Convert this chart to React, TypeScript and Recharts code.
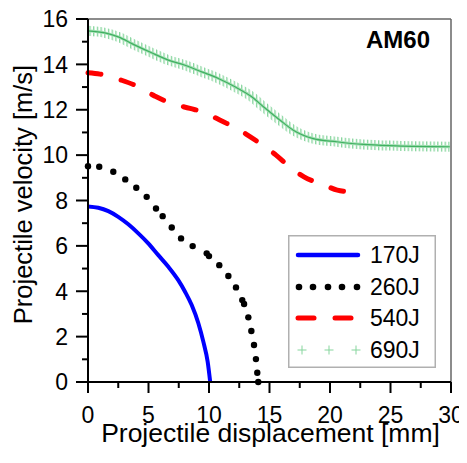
import { LineChart, Line, XAxis, YAxis, ReferenceLine, Legend } from "recharts";

// projectile displacement [mm] / velocity [m/s]
const X_170 = [0, 0.85, 1.68, 2.5, 3.33, 4.16, 4.98, 5.81, 6.64, 7.46, 8.02, 8.57, 9.12, 9.53, 9.89, 10.1];
const V_170 = [7.74, 7.68, 7.53, 7.28, 6.95, 6.55, 6.11, 5.59, 5.08, 4.49, 3.98, 3.39, 2.59, 1.78, 0.89, 0];

const X_260 = [0, 0.93, 2.09, 3.08, 3.99, 4.85, 5.62, 6.17, 6.92, 7.69, 8.65, 9.81, 10.0, 10.85, 11.6, 12.23, 12.75, 12.9, 13.25, 13.5, 13.72, 13.88, 13.99, 14.07];
const V_260 = [9.51, 9.49, 9.27, 8.93, 8.56, 8.16, 7.65, 7.31, 6.81, 6.33, 5.99, 5.67, 5.55, 5.15, 4.67, 4.17, 3.61, 3.44, 2.85, 2.25, 1.63, 1.01, 0.41, 0];

const X_540 = [0, 0.99, 2.78, 3.88, 5.54, 6.78, 8.43, 9.81, 10.36, 11.46, 13.06, 14.16, 15.54, 16.83, 17.85, 19.53, 20.6, 22.04];
const V_540 = [13.63, 13.57, 13.3, 13.08, 12.6, 12.3, 12.06, 11.84, 11.69, 11.4, 10.93, 10.54, 10.0, 9.41, 9.04, 8.68, 8.46, 8.37];

const X_690 = [0, 1.4, 2.5, 3.88, 5.26, 6.64, 8.02, 9.4, 10.77, 12.15, 13.53, 14.5, 15.87, 16.97, 18.62, 20.55, 22.75, 25.5, 29.9];
const V_690 = [15.48, 15.39, 15.21, 14.85, 14.51, 14.19, 13.96, 13.67, 13.38, 13.01, 12.57, 12.13, 11.54, 11.1, 10.73, 10.59, 10.47, 10.41, 10.37];

const SERIES_NAMES = ["170J", "260J", "540J", "690J"];
const X_TICKS = [0, 2.5, 5, 7.5, 10, 12.5, 15, 17.5, 20, 22.5, 25, 27.5, 30];
const Y_TICKS = [0, 1, 2, 3, 4, 5, 6, 7, 8, 9, 10, 11, 12, 13, 14, 15, 16];

const FONT = '"Liberation Sans", Arial, sans-serif';
const LIGHT_GREEN = "#86d59d";

const toPoints = (xs: number[], vs: number[]) => xs.map((x, i) => ({ x, v: vs[i] }));

function XTick({ x, y, payload }: any) {
  const major = payload.value % 5 === 0;
  return (
    <g>
      <line x1={x} x2={x} y1={y} y2={y + (major ? 11 : 6)} stroke="#000" strokeWidth={2} />
      {major && (
        <text x={x} y={y + 41} textAnchor="middle" fontSize={23} fontFamily={FONT} fill="#000">
          {payload.value}
        </text>
      )}
    </g>
  );
}

function YTick({ x, y, payload }: any) {
  const major = payload.value % 2 === 0;
  return (
    <g>
      <line x1={x - (major ? 12 : 6)} x2={x} y1={y} y2={y} stroke="#000" strokeWidth={2} />
      {major && (
        <text x={x - 20} y={y} dy="0.36em" textAnchor="end" fontSize={23} fontFamily={FONT} fill="#000">
          {payload.value}
        </text>
      )}
    </g>
  );
}

function XLabel({ viewBox }: any) {
  return (
    <text x={viewBox.x + viewBox.width / 2 + 1} y={viewBox.y + 60} textAnchor="middle" fontSize={26.5} fontFamily={FONT} fill="#000">
      Projectile displacement [mm]
    </text>
  );
}

function YLabel({ viewBox }: any) {
  const cx = viewBox.x + 24;
  const cy = viewBox.y + viewBox.height / 2 - 6;
  return (
    <text x={cx} y={cy} transform={`rotate(-90, ${cx}, ${cy})`} textAnchor="middle" fontSize={25.5} fontFamily={FONT} fill="#000">
      Projectile velocity [m/s]
    </text>
  );
}

function LegendBox() {
  const rows = [20, 52, 83, 115];
  return (
    <svg width={148} height={133} style={{ display: "block" }}>
      <rect x={0.75} y={0.75} width={146.5} height={131.5} fill="#fff" stroke="#b0b0b0" strokeWidth={1.5} />
      <line x1={10} x2={70} y1={rows[0]} y2={rows[0]} stroke="#0000ff" strokeWidth={4.5} strokeLinecap="round" />
      {[11, 25, 40, 54, 69].map((cx) => (
        <circle key={cx} cx={cx} cy={rows[1]} r={3.3} fill="#000" />
      ))}
      {[[10, 26], [47, 63]].map(([a, b]) => (
        <line key={a} x1={a} x2={b} y1={rows[2]} y2={rows[2]} stroke="#ff0000" strokeWidth={5} strokeLinecap="round" />
      ))}
      {[14, 41, 68].map((cx) => (
        <g key={cx} stroke={LIGHT_GREEN} strokeWidth={1}>
          <line x1={cx - 4.5} x2={cx + 4.5} y1={rows[3]} y2={rows[3]} />
          <line x1={cx} x2={cx} y1={rows[3] - 4.5} y2={rows[3] + 4.5} />
        </g>
      ))}
      {SERIES_NAMES.map((name, i) => (
        <text key={name} x={82} y={rows[i]} dy="0.36em" fontSize={23} fontFamily={FONT} fill="#000">
          {name}
        </text>
      ))}
    </svg>
  );
}

export default function App() {
  return (
    <div style={{ width: 459, height: 455, background: "#fff" }}>
      <LineChart width={459} height={455} margin={{ top: 11, right: 16, bottom: 0, left: 0 }}>
        <defs>
          <pattern id="vbars" patternUnits="userSpaceOnUse" width={3.7} height={40}>
            <rect x={0} y={0} width={1.3} height={40} fill={LIGHT_GREEN} />
          </pattern>
        </defs>
        <XAxis
          type="number"
          dataKey="x"
          domain={[0, 30]}
          ticks={X_TICKS}
          interval={0}
          height={81}
          tickSize={0}
          tickMargin={0}
          tickLine={false}
          tick={<XTick />}
          axisLine={{ stroke: "#000", strokeWidth: 2 }}
          label={<XLabel />}
        />
        <YAxis
          type="number"
          dataKey="v"
          domain={[0, 16]}
          ticks={Y_TICKS}
          interval={0}
          width={80}
          tickSize={0}
          tickMargin={0}
          tickLine={false}
          tick={<YTick />}
          axisLine={{ stroke: "#000", strokeWidth: 2 }}
          label={<YLabel />}
        />
        <ReferenceLine y={16} stroke="#666" strokeWidth={1.5} />
        <ReferenceLine x={30} stroke="#666" strokeWidth={1.5} />
        <Line
          data={toPoints(X_690, V_690)}
          dataKey="v"
          name={SERIES_NAMES[3]}
          type="monotone"
          stroke="url(#vbars)"
          strokeWidth={10}
          dot={false}
          isAnimationActive={false}
        />
        <Line
          data={toPoints(X_690, V_690)}
          dataKey="v"
          type="monotone"
          stroke="#a6e0b6"
          strokeWidth={3}
          dot={false}
          legendType="none"
          isAnimationActive={false}
        />
        <Line
          data={toPoints(X_690, V_690)}
          dataKey="v"
          type="monotone"
          stroke="#3fb060"
          strokeWidth={1.2}
          dot={false}
          legendType="none"
          isAnimationActive={false}
        />
        <Line
          data={toPoints(X_540, V_540)}
          dataKey="v"
          name={SERIES_NAMES[2]}
          type="monotone"
          stroke="#ff0000"
          strokeWidth={5}
          strokeDasharray="13 21"
          strokeLinecap="round"
          dot={false}
          isAnimationActive={false}
        />
        <Line
          data={toPoints(X_260, V_260)}
          dataKey="v"
          name={SERIES_NAMES[1]}
          stroke="none"
          strokeWidth={0}
          dot={{ r: 3.2, fill: "#000", stroke: "none" }}
          isAnimationActive={false}
        />
        <Line
          data={toPoints(X_170, V_170)}
          dataKey="v"
          name={SERIES_NAMES[0]}
          type="monotone"
          stroke="#0000ff"
          strokeWidth={4}
          dot={false}
          isAnimationActive={false}
        />
        <Legend
          layout="vertical"
          align="center"
          verticalAlign="middle"
          content={<LegendBox />}
          wrapperStyle={{ left: 280, top: 227, width: 148, height: 133 }}
        />
        <text x={422} y={40} textAnchor="end" fontSize={24} fontWeight="bold" fontFamily={FONT} fill="#000">
          AM60
        </text>
      </LineChart>
    </div>
  );
}
